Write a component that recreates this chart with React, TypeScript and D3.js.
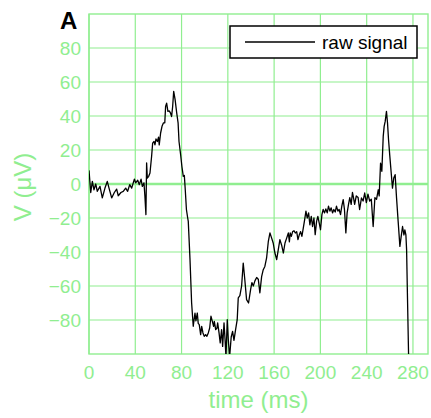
import React from "react";
import * as d3 from "d3";

const timeMs: number[] = [
  0, 1.5, 2.9, 4.3, 5.8, 7.2, 9.5, 11.5, 13.8, 15.8, 17.3, 19.6, 21.9, 23.9, 25.3, 27.6, 29.6, 31.7, 33.4, 35.2,
  36.9, 39.2, 40.3, 42.1, 43.5, 45, 46.1, 47.5, 48.3, 49.2, 49.8, 50.4, 51.6, 52.7, 54.1, 55, 56.2, 57, 57.9, 59.1,
  60.1, 60.7, 61.9, 63.1, 64.3, 65.5, 66.2, 67.1, 68.2, 69.3, 70.4, 71.4, 72.3, 73.2, 74.4, 75.8, 77, 77.8, 79.2, 80.3,
  81.5, 82.4, 83.2, 84.2, 85.3, 85.8, 87.3, 88.7, 90.1, 91.6, 92.4, 93.6, 94.4, 95.3, 96.5, 97.4, 98.5, 99.6, 100.8, 101.9,
  103.1, 104.3, 105.4, 106.6, 107.7, 108.3, 109.5, 110.6, 111.2, 112.4, 113.4, 114.6, 115.5, 116.7, 117.6, 118.4, 119.5, 120.4, 121.5, 122.9,
  124.1, 125.3, 126.7, 128.1, 129, 130.4, 131.9, 133.3, 134.5, 136.2, 137.9, 139.7, 140.8, 142, 143.4, 144.9, 146.3, 147.7, 149.2, 150.6,
  152, 153.5, 155, 156.4, 157.8, 159.2, 160.7, 162.2, 163.6, 165, 166.5, 168, 169.4, 170.9, 172.3, 173.2, 173.9, 174.9, 176, 177.2,
  178.3, 179.5, 180.6, 181.8, 182.9, 184, 185.2, 186.4, 187.5, 188.6, 189.8, 190.9, 192.1, 193.2, 194.4, 195.5, 196.7, 197.8, 199, 200.1,
  201.3, 202.4, 203.6, 204.7, 205.9, 207, 208.2, 209.3, 210.5, 211.6, 212.8, 213.9, 215.1, 216.2, 217.4, 218.5, 219.7, 220.8, 222, 223.1,
  224.3, 225.4, 226.6, 227.7, 228.4, 229.6, 231, 232.6, 233.9, 235.5, 236.9, 238.3, 239.7, 241.1, 242.6, 244, 245.6, 247.1, 248.5, 250,
  250.8, 252, 253.1, 254.3, 255.1, 256, 257.1, 258, 258.9, 260, 261.2, 262.3, 263.4, 264.6, 265.8, 267.2, 268.7, 269.8, 271, 272.2,
  273, 273.9, 274.5, 275.3, 276.2, 277,
];

const rawSignal: number[] = [
  8, -5, 1.5, -3.4, 0, -4.3, -1.4, -8.2, -2.4, 1.5, -2.4, -8.2, -5, -3, -6.9, -5, -4.3, -2.4, -4.3, -0.4,
  -2.4, 2.9, 0.7, 2.2, -0.4, 2.9, -1.4, 0.7, -7, -18, 12.4, 3.5, 4.5, 6.5, 16.2, 24, 25, 23, 26.5, 25,
  27.6, 23, 30, 33.9, 35.9, 36, 45.6, 47.6, 42.7, 43, 41.8, 39.7, 45.6, 54.5, 49.8, 41.8, 36, 25, 17.2, 10.3,
  4.5, 5, -3.4, -15, -20, -22, -44.5, -70, -83.7, -75.9, -80.5, -75.9, -82, -82.7, -88.6, -83.7, -87.6, -89.6, -88.6, -89.6,
  -87.6, -84.7, -77.8, -80.8, -83.7, -80.8, -85.7, -84.7, -81.7, -87.6, -93.5, -85.7, -95.5, -81.7, -91.5, -102, -79.8, -91.5, -102, -90,
  -86.7, -92, -85.7, -79.8, -67, -65.7, -60, -46.5, -55, -68, -70, -62, -58, -60, -57, -55, -56, -64, -54.5, -50.4,
  -48.5, -43.5, -33.7, -28.8, -31.7, -34.7, -40.6, -44.5, -38.6, -32.7, -36, -40.6, -34.7, -31.7, -28.8, -34, -28.8, -30.8, -28, -27.5,
  -28.8, -28, -32.7, -29.8, -28, -30.8, -26, -21, -16, -20, -17, -24, -19, -25, -20, -29.8, -22, -19, -23, -26.9,
  -18, -15, -17, -14.7, -17, -13, -16, -14, -17, -15, -16.5, -13, -16, -15, -18, -13, -9.2, -15, -28.8, -17,
  -12, -8, -12, -5, -7.3, -12, -7, -8, -15, -8.2, -10, -5.3, -11, -6, -10, -9, -25, -8, -9, -3.4,
  -7, 12.3, 7.5, 28, 33.9, 36.8, 42.7, 36, 26, 16.4, 6.5, -2.4, 3.5, 5.5, -8, -22, -36.7, -31, -25, -30,
  -27, -30, -38.6, -68, -100, -115,
];

const xTicks: number[] = [0, 40, 80, 120, 160, 200, 240, 280];
const yTicks: number[] = [-80, -60, -40, -20, 0, 20, 40, 60, 80];

const seriesName = "raw signal";
const panelLabel = "A";
const xLabel = "time (ms)";
const yLabel = "V (μV)";

const W = 431;
const H = 418;
const PL = 89;
const PR = 428;
const PT = 14;
const PB = 354;
const GREEN = "#90ee90";
const FONT = "'Liberation Sans', Arial, Helvetica, sans-serif";

export default function App() {
  const x = d3.scaleLinear().domain([0, 293]).range([PL, PR]);
  const y = d3.scaleLinear().domain([-100, 100]).range([PB, PT]);
  const pts: [number, number][] = timeMs.map((t, i) => [t, rawSignal[i]]);
  const line = d3
    .line<[number, number]>()
    .x((d) => x(d[0]))
    .y((d) => y(d[1]));
  const fmt = (v: number) => (v < 0 ? "\u2212" + Math.abs(v) : String(v));

  return (
    <svg
      width={W}
      height={H}
      style={{ position: "absolute", left: 0, top: 0, background: "#fff" }}
      fontFamily={FONT}
    >
      <defs>
        <clipPath id="plotclip">
          <rect x={PL} y={PT} width={PR - PL} height={PB - PT} />
        </clipPath>
      </defs>
      {/* grid */}
      {xTicks.map((t) => (
        <line key={"gx" + t} x1={x(t)} x2={x(t)} y1={PT} y2={PB} stroke={GREEN} strokeWidth={1.2} />
      ))}
      {yTicks.map((t) => (
        <line
          key={"gy" + t}
          x1={PL}
          x2={PR}
          y1={y(t)}
          y2={y(t)}
          stroke={GREEN}
          strokeWidth={t === 0 ? 2.4 : 1.2}
        />
      ))}
      {/* frame */}
      <rect x={PL} y={PT} width={PR - PL} height={PB - PT} fill="none" stroke={GREEN} strokeWidth={1.4} />
      {/* signal */}
      <path
        d={line(pts) || ""}
        fill="none"
        stroke="#000"
        strokeWidth={1.3}
        strokeLinejoin="round"
        clipPath="url(#plotclip)"
      />
      {/* tick labels */}
      {xTicks.map((t) => (
        <text key={"tx" + t} x={x(t)} y={379} textAnchor="middle" fontSize={19} fill={GREEN}>
          {fmt(t)}
        </text>
      ))}
      {yTicks.map((t) => (
        <text key={"ty" + t} x={81} y={y(t) + 7} textAnchor="end" fontSize={19} fill={GREEN}>
          {fmt(t)}
        </text>
      ))}
      {/* axis labels */}
      <text x={(PL + PR) / 2} y={408} textAnchor="middle" fontSize={24} fill={GREEN}>
        {xLabel}
      </text>
      <text
        transform={`translate(31, 187) rotate(-90)`}
        textAnchor="middle"
        fontSize={24}
        fill={GREEN}
      >
        {yLabel}
      </text>
      {/* panel label */}
      <text x={60} y={29} fontSize={24} fontWeight="bold" fill="#000">
        {panelLabel}
      </text>
      {/* legend */}
      <rect x={230} y={26} width={187} height={32} fill="#fff" stroke="#000" strokeWidth={1.5} />
      <line x1={245} x2={315} y1={42} y2={42} stroke="#000" strokeWidth={1.3} />
      <text x={322} y={49} fontSize={19} fill="#000">
        {seriesName}
      </text>
    </svg>
  );
}
